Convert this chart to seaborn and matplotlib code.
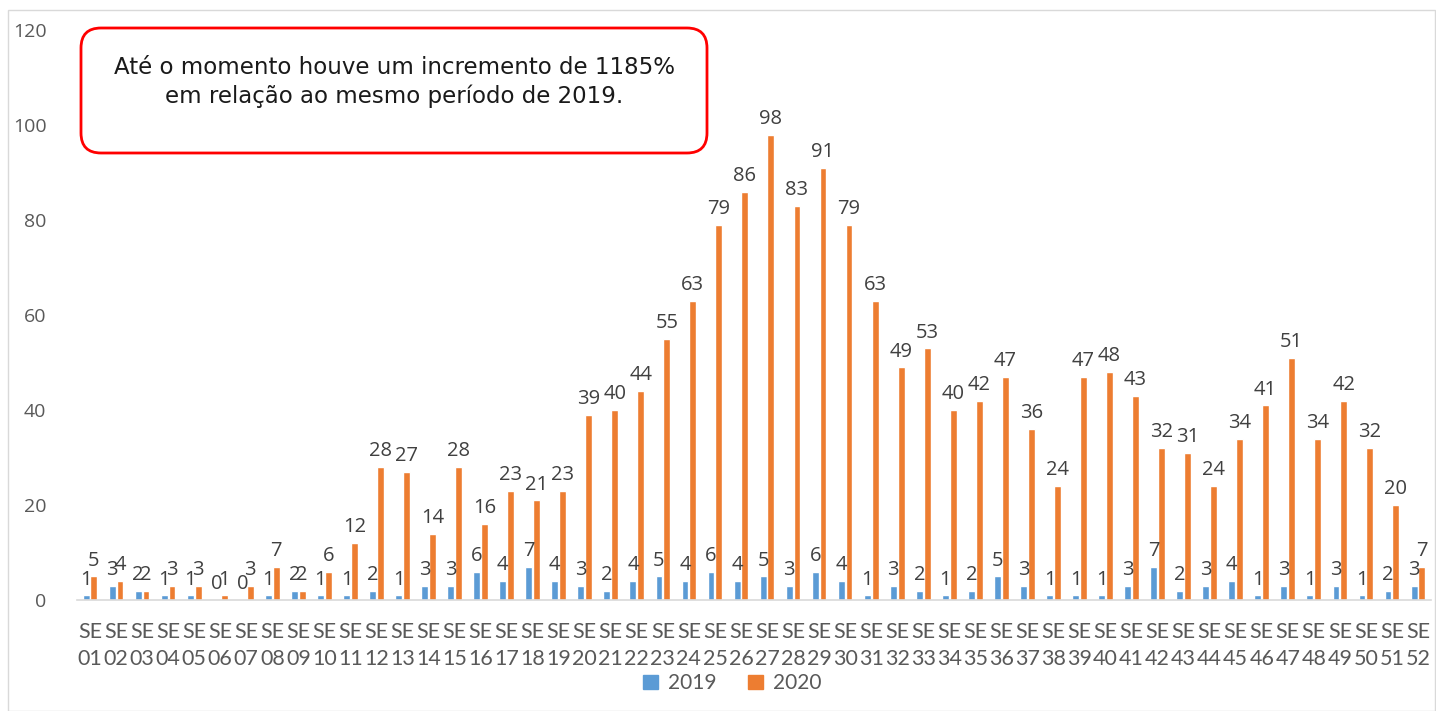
import matplotlib
matplotlib.use("Agg")
import matplotlib.pyplot as plt
import pandas as pd
import seaborn as sns
from matplotlib.patches import FancyBboxPatch, Rectangle
from matplotlib.transforms import IdentityTransform

semanas = [f"{n:02d}" for n in range(1, 53)]
casos_2019 = [1, 3, 2, 1, 1, 0, 0, 1, 2, 1, 1, 2, 1, 3, 3, 6, 4, 7, 4, 3,
              2, 4, 5, 4, 6, 4, 5, 3, 6, 4, 1, 3, 2, 1, 2, 5, 3, 1, 1, 1,
              3, 7, 2, 3, 4, 1, 3, 1, 3, 1, 2, 3]
casos_2020 = [5, 4, 2, 3, 3, 1, 3, 7, 2, 6, 12, 28, 27, 14, 28, 16, 23, 21, 23, 39,
              40, 44, 55, 63, 79, 86, 98, 83, 91, 79, 63, 49, 53, 40, 42, 47, 36, 24, 47, 48,
              43, 32, 31, 24, 34, 41, 51, 34, 42, 32, 20, 7]
anos = ["2019", "2020"]
cores = {"2019": "#5B9BD5", "2020": "#ED7D31"}
y_ticks = [0, 20, 40, 60, 80, 100, 120]
nota = "Até o momento houve um incremento de 1185%\nem relação ao mesmo período de 2019."

df = pd.DataFrame({
    "semana": semanas * 2,
    "casos": casos_2019 + casos_2020,
    "ano": [anos[0]] * len(semanas) + [anos[1]] * len(semanas),
})

sns.set_style("white")
plt.rcParams["font.family"] = ["Lato", "DejaVu Sans"]

fig = plt.figure(figsize=(14.36, 7.11), dpi=100)
ax = fig.add_axes([77 / 1436, 111 / 711, 1354 / 1436, 570 / 711])

sns.barplot(data=df, x="semana", y="casos", hue="ano", palette=cores,
            width=0.6, gap=0.12, saturation=1, ax=ax, legend=False)

# rótulos de valor acima de cada barra (alguns se sobrepõem, como no original)
for container in ax.containers:
    ax.bar_label(container, padding=4, fontsize=14.5, color="#404040",
                 family=["Open Sans", "DejaVu Sans"])

ax.set_xlim(-0.5, len(semanas) - 0.5)
ax.set_ylim(0, 120)
ax.set_yticks(y_ticks)
ax.set_yticklabels([str(v) for v in y_ticks], fontsize=14, color="#595959",
                   family=["Open Sans", "DejaVu Sans"])
ax.set_xticks(range(len(semanas)))
ax.set_xticklabels([f"SE\n{s}" for s in semanas], fontsize=15.5, color="#595959",
                   linespacing=1.4)
ax.tick_params(axis="x", length=0, pad=16)
ax.tick_params(axis="y", length=0, pad=22)
ax.set_xlabel("")
ax.set_ylabel("")
for side in ["left", "right", "top"]:
    ax.spines[side].set_visible(False)
ax.spines["bottom"].set_color("#D9D9D9")
ax.spines["bottom"].set_linewidth(1.2)

handles = [Rectangle((0, 0), 1, 1, color=cores[a]) for a in anos]
fig.legend(handles, anos, loc="center", bbox_to_anchor=(0.51, 0.039), ncol=2,
           frameon=False, fontsize=15, handlelength=0.7, handleheight=0.7,
           columnspacing=1.5, handletextpad=0.5, labelcolor="#595959")

# moldura externa e caixa de nota
fig.add_artist(Rectangle((8, 0), 1427, 701, transform=IdentityTransform(),
                         fill=False, edgecolor="#D9D9D9", linewidth=1))
fig.add_artist(FancyBboxPatch((81, 558), 626, 125, transform=IdentityTransform(),
                              boxstyle="round,pad=0,rounding_size=20",
                              facecolor="white", edgecolor="#FF0000", linewidth=2))
fig.text(394 / 1436, (711 - 82) / 711, nota, ha="center", va="center", fontsize=16.5,
         color="#1a1a1a", linespacing=1.25, family=["DejaVu Sans"])

fig.savefig("out.png", dpi=100)
